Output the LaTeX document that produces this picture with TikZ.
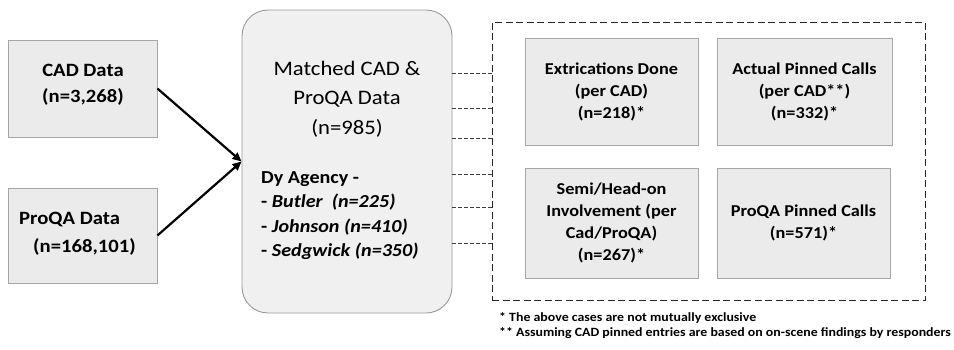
\documentclass[tikz,border=0pt]{standalone}
\usepackage{fontspec}
\setmainfont[FakeStretch=1.1]{Carlito}
\usetikzlibrary{arrows.meta}
\tikzset{
  databox/.style={draw=gray!70, fill=gray!16, line width=0.8pt, inner sep=0pt},
  bigbox/.style={draw=gray!80, fill=gray!12, line width=0.9pt, rounded corners=26pt, inner sep=0pt},
  subbox/.style={draw=gray!70, fill=gray!16, line width=0.8pt, inner sep=0pt, align=center, font=\fontsize{16.6}{22}\selectfont\bfseries},
  groupbox/.style={draw=black!85, dashed, dash pattern=on 7pt off 3.5pt, line width=0.9pt, inner sep=0pt},
  feed/.style={-{Triangle[length=9pt,width=8pt]}, line width=2.2pt, black},
  link/.style={draw=black!75, dash pattern=on 4pt off 2pt, line width=0.8pt},
  note/.style={anchor=west, inner sep=0pt, font=\fontsize{12.6}{14}\selectfont\bfseries}
}
\begin{document}
\begin{tikzpicture}[x=1pt,y=-1pt]
\useasboundingbox (0,0) rectangle (954,349);
% source boxes
\node[databox, minimum width=149pt, minimum height=97pt] (cad) at (82.5,88.5) {};
\node[align=center, font=\fontsize{18.8}{26}\selectfont\bfseries] (cadtxt) at (83,85) {CAD Data\\(n=3,268)};
\node[databox, minimum width=149pt, minimum height=95pt] (pqa) at (82.5,235.5) {};
\node[anchor=west, align=left, font=\fontsize{18.8}{28}\selectfont\bfseries, inner sep=0pt] (pqatxt) at (19,234) {ProQA Data\\\hspace*{14pt}(n=168,101)};
% matched box
\node[bigbox, minimum width=210pt, minimum height=303pt] (match) at (347,161.5) {};
\node[align=center, font=\fontsize{20.6}{29.5}\selectfont] (mtitle) at (347,99) {Matched CAD \&\\ProQA Data\\(n=985)};
\node[anchor=west, align=left, inner sep=0pt, font=\fontsize{18.3}{24.5}\selectfont\bfseries] (magency) at (261,215.5) {Dy Agency -\\- \textit{Butler\ \ (n=225)}\\- \textit{Johnson (n=410)}\\- \textit{Sedgwick (n=350)}};
% arrows
\draw[feed] (cad.east) -- (match.west);
\draw[feed] (pqa.east) -- (match.west);
% group container
\node[groupbox, minimum width=433pt, minimum height=278pt] (grp) at (708.5,161) {};
\foreach \yy in {73,108,138,174,207,243}
  \draw[link] (match.east |- 0,\yy) -- (grp.west |- 0,\yy);
% sub boxes
\node[subbox, minimum width=173pt, minimum height=107pt] (extr) at (611.5,91.5) {Extrications Done\\(per CAD)\\(n=218)*};
\node[subbox, minimum width=175pt, minimum height=107pt] (actual) at (804.5,91.5) {Actual Pinned Calls\\(per CAD**)\\(n=332)*};
\node[subbox, minimum width=173pt, minimum height=110pt] (semi) at (611.5,223) {Semi/Head-on\\Involvement (per\\Cad/ProQA)\\(n=267)*};
\node[subbox, minimum width=173pt, minimum height=110pt] (proqa) at (803.5,223) {ProQA Pinned Calls\\(n=571)*};
% notes
\node[note] (note1) at (499,318) {* The above cases are not mutually exclusive};
\node[note] (note2) at (499,333) {** Assuming CAD pinned entries are based on on-scene findings by responders};
\end{tikzpicture}
\end{document}
